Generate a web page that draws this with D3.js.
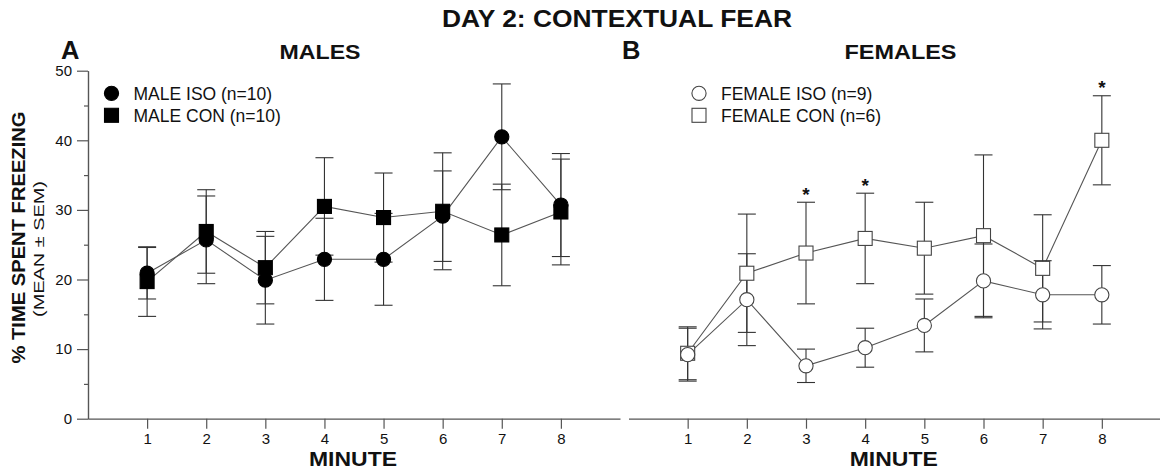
<!DOCTYPE html>
<html>
<head>
<meta charset="utf-8">
<script src="https://cdn.jsdelivr.net/npm/d3@7"></script>
<style>
  html, body { margin: 0; padding: 0; background: #fff; }
  svg { display: block; }
  text { font-family: "Liberation Sans", Arial, Helvetica, sans-serif; fill: #111; }
</style>
</head>
<body>
<svg id="chart" width="1160" height="471"></svg>
<script>
// Minutes of the context re-exposure test
const minutes = [1, 2, 3, 4, 5, 6, 7, 8];
const yTicks = [0, 10, 20, 30, 40, 50];
const yMinorTicks = [5, 15, 25, 35, 45];

// % time spent freezing, mean and SEM per minute
const maleIsoMean   = [20.9, 25.7, 19.9, 22.9, 22.9, 29.1, 40.5, 30.7];
const maleIsoSem    = [3.7, 6.3, 6.3, 5.9, 6.6, 6.5, 7.6, 7.4];
const maleConMean   = [19.7, 26.9, 21.7, 30.5, 28.9, 29.8, 26.4, 29.7];
const maleConSem    = [5.0, 6.0, 5.2, 7.0, 6.4, 8.4, 7.3, 7.6];
const femaleIsoMean = [9.2, 17.1, 7.6, 10.2, 13.4, 19.8, 17.8, 17.8];
const femaleIsoSem  = [3.8, 6.6, 2.4, 2.8, 3.8, 5.3, 4.9, 4.2];
const femaleConMean = [9.4, 20.9, 23.8, 25.9, 24.5, 26.3, 21.6, 40.0];
const femaleConSem  = [3.8, 8.5, 7.3, 6.5, 6.6, 11.6, 7.7, 6.4];
// minutes where female CON differs from female ISO
const femaleSigMinutes = [3, 4, 8];

const legendMale   = ["MALE ISO (n=10)", "MALE CON (n=10)"];
const legendFemale = ["FEMALE ISO (n=9)", "FEMALE CON (n=6)"];

const svg = d3.select("#chart");
const AXIS = "#555";
const LINE = "#555";
const BAR = "#333";

const y = d3.scaleLinear().domain([0, 50]).range([418.7, 70.7]);
const xL = d3.scaleLinear().domain([0, 9]).range([88, 620]);
const xR = d3.scaleLinear().domain([0, 9]).range([628.5, 1161]);

// Figure title
svg.append("text")
  .attr("x", 617).attr("y", 26.5)
  .attr("text-anchor", "middle")
  .attr("font-size", 23.5).attr("font-weight", "bold")
  .attr("textLength", 350).attr("lengthAdjust", "spacingAndGlyphs")
  .text("DAY 2: CONTEXTUAL FEAR");

function styleAxis(g) {
  g.select(".domain").attr("stroke", AXIS).attr("stroke-width", 1.2);
  g.selectAll(".tick line").attr("stroke", AXIS).attr("stroke-width", 1.2);
  g.selectAll(".tick text").attr("font-size", 15).attr("fill", "#222")
    .attr("font-family", '"Liberation Sans", Arial, sans-serif');
}

// Y axis (left panel only)
const yAxisG = svg.append("g").attr("transform", "translate(88,0)")
  .call(d3.axisLeft(y).tickValues(yTicks).tickSize(11).tickSizeOuter(0).tickPadding(5));
styleAxis(yAxisG);
const yMinorG = svg.append("g").attr("transform", "translate(88,0)")
  .call(d3.axisLeft(y).tickValues(yMinorTicks).tickSize(4).tickSizeOuter(0).tickFormat(""));
styleAxis(yMinorG);

svg.append("text")
  .attr("transform", "translate(25,237.5) rotate(-90)")
  .attr("text-anchor", "middle")
  .attr("font-size", 19).attr("font-weight", "bold")
  .attr("textLength", 252).attr("lengthAdjust", "spacingAndGlyphs")
  .text("% TIME SPENT FREEZING");
svg.append("text")
  .attr("transform", "translate(44,249) rotate(-90)")
  .attr("text-anchor", "middle")
  .attr("font-size", 15.5)
  .attr("textLength", 136).attr("lengthAdjust", "spacingAndGlyphs")
  .text("(MEAN ± SEM)");

function panel(opts) {
  const { x, letter, letterX, title, titleX, legend, legendX, series, stars, filled } = opts;
  const g = svg.append("g");

  const xAxisG = g.append("g").attr("transform", `translate(0,${y(0)})`)
    .call(d3.axisBottom(x).tickValues(minutes).tickSize(10).tickSizeOuter(0).tickPadding(5));
  styleAxis(xAxisG);

  g.append("text").attr("x", (x.range()[0] + x.range()[1]) / 2 - 1).attr("y", 465.5)
    .attr("text-anchor", "middle").attr("font-size", 21).attr("font-weight", "bold")
    .attr("textLength", 88).attr("lengthAdjust", "spacingAndGlyphs")
    .text("MINUTE");

  g.append("text").attr("x", letterX).attr("y", 58.5)
    .attr("font-size", 25.5).attr("font-weight", "bold").text(letter);
  g.append("text").attr("x", titleX).attr("y", 59)
    .attr("text-anchor", "middle").attr("font-size", 21).attr("font-weight", "bold")
    .attr("textLength", opts.titleLen).attr("lengthAdjust", "spacingAndGlyphs")
    .text(title);

  const line = d3.line().x(d => x(d.m)).y(d => y(d.v));

  // connecting lines first
  series.forEach(s => {
    const pts = minutes.map((m, i) => ({ m, v: s.mean[i] }));
    g.append("path").datum(pts).attr("d", line)
      .attr("fill", "none").attr("stroke", LINE).attr("stroke-width", 1.1);
  });

  // error bars
  series.forEach(s => {
    const eb = g.append("g");
    minutes.forEach((m, i) => {
      const hi = s.mean[i] + s.sem[i], lo = s.mean[i] - s.sem[i];
      eb.append("line").attr("x1", x(m)).attr("x2", x(m)).attr("y1", y(hi)).attr("y2", y(lo))
        .attr("stroke", BAR).attr("stroke-width", 1.1);
      [hi, lo].forEach(v => {
        eb.append("line").attr("x1", x(m) - 9).attr("x2", x(m) + 9).attr("y1", y(v)).attr("y2", y(v))
          .attr("stroke", BAR).attr("stroke-width", 1.1);
      });
    });
  });

  // markers
  series.forEach(s => {
    minutes.forEach((m, i) => drawMarker(g, s.shape, filled, x(m), y(s.mean[i])));
  });

  // significance stars
  if (stars) {
    stars.minutes.forEach(m => {
      const i = minutes.indexOf(m);
      const top = stars.mean[i] + stars.sem[i];
      g.append("text").attr("x", x(m)).attr("y", y(top) - 1.5)
        .attr("text-anchor", "middle").attr("font-size", 19).attr("font-weight", "bold")
        .text("*");
    });
  }

  // legend
  legend.forEach((label, i) => {
    const cy = 93.3 + i * 22;
    drawMarker(g, i === 0 ? "circle" : "square", filled, legendX, cy);
    g.append("text").attr("x", legendX + 22).attr("y", cy + 6.2)
      .attr("font-size", 17.5).text(label);
  });
}

function drawMarker(g, shape, filled, cx, cy) {
  const fill = filled ? "#000" : "#fff";
  const stroke = filled ? "#000" : "#444";
  if (shape === "circle") {
    g.append("circle").attr("cx", cx).attr("cy", cy).attr("r", 7.1)
      .attr("fill", fill).attr("stroke", stroke).attr("stroke-width", 1.1);
  } else {
    const s = 14;
    g.append("rect").attr("x", cx - s / 2).attr("y", cy - s / 2).attr("width", s).attr("height", s)
      .attr("fill", fill).attr("stroke", stroke).attr("stroke-width", 1.1);
  }
}

panel({
  x: xL, letter: "A", letterX: 61, title: "MALES", titleX: 320, titleLen: 81,
  legend: legendMale, legendX: 111.5, filled: true,
  series: [
    { shape: "circle", mean: maleIsoMean, sem: maleIsoSem },
    { shape: "square", mean: maleConMean, sem: maleConSem }
  ]
});

panel({
  x: xR, letter: "B", letterX: 622, title: "FEMALES", titleX: 900.5, titleLen: 112,
  legend: legendFemale, legendX: 699, filled: false,
  series: [
    { shape: "square", mean: femaleConMean, sem: femaleConSem },
    { shape: "circle", mean: femaleIsoMean, sem: femaleIsoSem }
  ],
  stars: { minutes: femaleSigMinutes, mean: femaleConMean, sem: femaleConSem }
});
</script>
</body>
</html>
